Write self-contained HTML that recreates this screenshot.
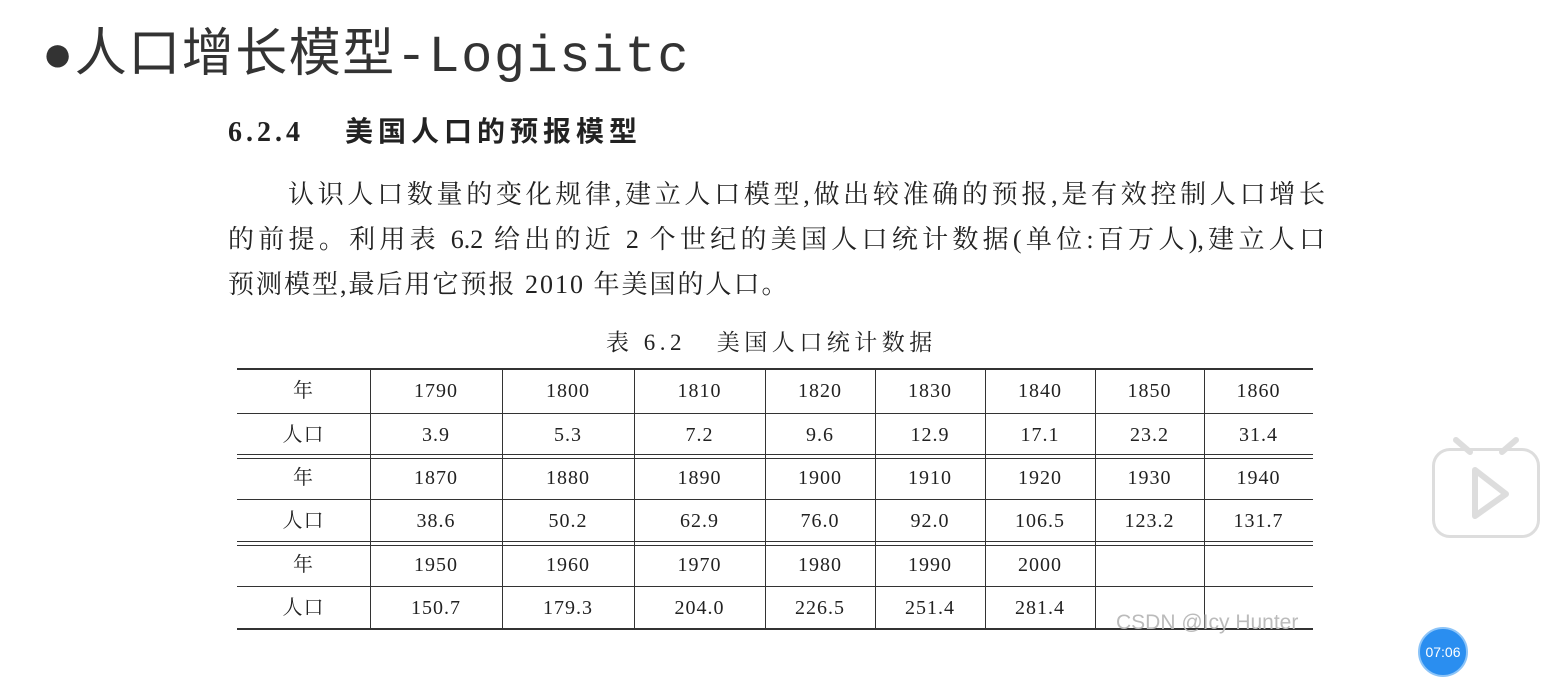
<!DOCTYPE html>
<html><head><meta charset="utf-8"><style>
body{margin:0;width:1563px;height:697px;background:#fff;position:relative;overflow:hidden;font-family:"Liberation Serif","Noto Serif CJK SC",serif;color:#222}
.a{position:absolute;white-space:nowrap}
.h{position:absolute;background:#333}
.c{position:absolute;text-align:center;font-size:20px;line-height:20px;color:#222;letter-spacing:1px}
.j{text-align:justify;text-align-last:justify;white-space:normal}
</style></head><body>
<div class="a" style="left:42px;top:26px;font-size:52px;line-height:64px;color:#333;font-family:'Liberation Mono','Noto Sans CJK SC',monospace;letter-spacing:1.5px">●人口增长模型-Logisitc</div>
<div class="a" style="left:228px;top:114px;font-size:28px;line-height:38px;font-weight:bold;font-family:'Liberation Serif','Noto Sans CJK SC',serif"><span style="letter-spacing:4px">6.2.4</span><span style="position:absolute;left:117px;letter-spacing:5px">美国人口的预报模型</span></div>
<div class="a j" style="left:288px;top:179px;width:1037px;font-size:26px;line-height:32px">认识人口数量的变化规律,建立人口模型,做出较准确的预报,是有效控制人口增长</div>
<div class="a j" style="left:228px;top:224px;width:1097px;font-size:26px;line-height:32px">的前提。利用表 6.2 给出的近 2 个世纪的美国人口统计数据(单位:百万人),建立人口</div>
<div class="a" style="left:228px;top:269px;font-size:26px;line-height:32px;letter-spacing:2px">预测模型,最后用它预报 2010 年美国的人口。</div>
<div class="a" style="left:606px;top:328px;font-size:23px;line-height:30px;letter-spacing:4.5px">表 6.2&nbsp;&nbsp;&nbsp;美国人口统计数据</div>
<div id="tbl"></div>
<div class="a" style="left:1116px;top:611px;font-size:21px;color:#bbb;font-family:'Liberation Sans',sans-serif">CSDN @Icy Hunter</div>
<div class="a" style="left:1432px;top:448px;width:108px;height:90px;border:3px solid #ddd;border-radius:18px;box-sizing:border-box">
<svg width="108" height="100" style="position:absolute;left:-3px;top:-13px;overflow:visible"><line x1="24" y1="2" x2="38" y2="14" stroke="#ddd" stroke-width="6" stroke-linecap="round"/><line x1="84" y1="2" x2="70" y2="14" stroke="#ddd" stroke-width="6" stroke-linecap="round"/><path d="M43 32 L74 56 L43 78 Z" fill="none" stroke="#ddd" stroke-width="6" stroke-linejoin="round"/></svg></div>
<div class="a" style="left:1418px;top:627px;width:50px;height:50px;border-radius:50%;background:#2a8ef0;border:2px solid #8cc4f8;box-sizing:border-box;color:#fff;font-family:'Liberation Sans',sans-serif;font-size:14px;line-height:46px;text-align:center">07:06</div>
<script>
const years=[["1790","1800","1810","1820","1830","1840","1850","1860"],["1870","1880","1890","1900","1910","1920","1930","1940"],["1950","1960","1970","1980","1990","2000","",""]];
const pops=[["3.9","5.3","7.2","9.6","12.9","17.1","23.2","31.4"],["38.6","50.2","62.9","76.0","92.0","106.5","123.2","131.7"],["150.7","179.3","204.0","226.5","251.4","281.4","",""]];
const cols=[237,370,502,634,765,875,985,1095,1204,1313];
const rows=[369,413,456,499,543,586,629];
const t=document.getElementById('tbl');
function line(x,y,w,h,n){const d=document.createElement('div');d.className='h';d.style.cssText+=`left:${x}px;top:${y}px;width:${w}px;height:${h}px`;


t.appendChild(d);}
line(237,368,1076,2,'table-top-rule');line(237,628,1076,2,'table-bottom-rule');
[413,499,586].forEach(y=>line(237,y,1076,1,'row-rule'));
[454,458,541,545].forEach(y=>line(237,y,1076,1,'double-rule'));
for(let i=1;i<9;i++){line(cols[i],370,1,258,'column-rule');}
function cell(txt,ci,y,n){const d=document.createElement('div');d.className='c';d.textContent=txt;d.style.cssText+=`left:${cols[ci]}px;width:${cols[ci+1]-cols[ci]}px;top:${y}px`;


t.appendChild(d);}
for(let b=0;b<3;b++){const y0=rows[b*2],y1=rows[b*2+1];
cell('年',0,y0+12,'year-label');cell('人口',0,y1+12,'population-label');
for(let i=0;i<8;i++){cell(years[b][i],i+1,y0+12,'year-cell');cell(pops[b][i],i+1,y1+12,'population-cell');}}
</script>
</body></html>
